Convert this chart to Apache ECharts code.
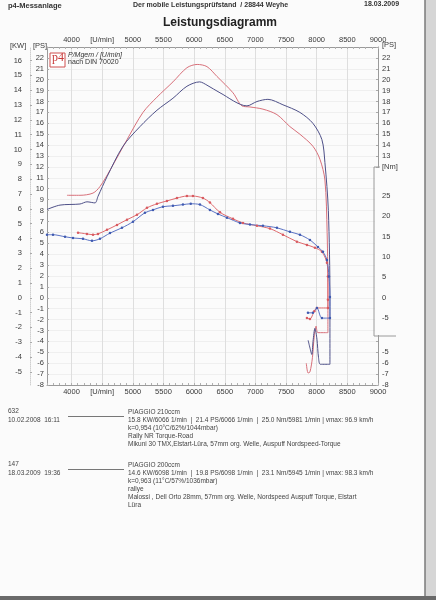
<!DOCTYPE html>
<html>
<head>
<meta charset="utf-8">
<script src="https://cdn.jsdelivr.net/npm/echarts@6/dist/echarts.min.js"></script>
<style>
  html, body { margin: 0; padding: 0; background: #fbfbfb; }
  #main { width: 436px; height: 600px; }
</style>
</head>
<body>
<div id="main"></div>
<script>
// --- data ---
// power 210ccm (red), PS over U/min (tail = run-down loop)
const redPowerRpm = [3926, 4138, 4350, 4464, 4628, 4905, 5166, 5394, 5655, 5883, 6050, 6210, 6373, 6634, 6781, 6911, 7123, 7351, 7563, 7726, 7938, 8053, 8134, 8170, 8183, 8183, 8020, 7990, 7960, 7930, 7890, 7860, 7830];
const redPowerPs  = [9.4, 9.4, 9.6, 10.2, 11.7, 14.5, 17.0, 18.4, 19.8, 21.1, 21.4, 21.2, 20.3, 18.8, 17.6, 17.5, 17.3, 16.8, 15.7, 15.0, 13.9, 12.7, 10.8, 6.0, 0, -3.2, -3.2, -2.6, -3.5, -5.5, -6.8, -6.9, -6.0];

// power 200ccm (blue)
const bluePowerRpm = [3600, 3812, 4138, 4252, 4383, 4432, 4579, 4840, 5117, 5394, 5655, 5883, 6090, 6210, 6422, 6862, 7025, 7204, 7449, 7726, 7938, 8085, 8134, 8190, 8216, 8216, 8060, 8030, 8004, 7971, 7940, 7920, 7890, 7860];
const bluePowerPs  = [8.1, 8.5, 8.6, 8.8, 8.7, 9.3, 11.1, 13.9, 15.7, 17.2, 18.3, 19.4, 19.8, 19.5, 18.8, 17.6, 18.0, 18.2, 17.7, 17.0, 16.0, 14.5, 12.4, 8.0, 0, -6.1, -6.1, -5.5, -3.8, -2.8, -4.0, -5.2, -4.6, -3.9];

// torque 210ccm (red), Nm
const redTorqueRpm = [4106, 4252, 4350, 4432, 4579, 4742, 4905, 5068, 5231, 5394, 5557, 5720, 5883, 5981, 6144, 6258, 6422, 6634, 6797, 7025, 7237, 7449, 7677, 7841, 7971, 8085, 8167, 8183, 8183, 8183, 8004, 7960, 7890, 7841];
const redTorqueNm  = [16.0, 15.7, 15.5, 15.7, 16.7, 17.9, 19.2, 20.4, 22.1, 23.1, 23.8, 24.5, 25.0, 25.0, 24.5, 23.4, 21.0, 19.4, 18.4, 17.7, 17.0, 15.5, 13.8, 13.0, 12.3, 11.3, 8.6, 5.2, -0.5, -2.5, -2.5, -3.3, -5.2, -5.0];

// torque 200ccm (blue)
const blueTorqueRpm = [3600, 3698, 3894, 4024, 4187, 4334, 4464, 4628, 4823, 5003, 5198, 5329, 5492, 5655, 5818, 5945, 6095, 6258, 6389, 6536, 6748, 6911, 7123, 7351, 7563, 7726, 7890, 8020, 8102, 8167, 8200, 8216, 8216, 8085, 8004, 7938, 7857];
const blueTorqueNm  = [15.5, 15.5, 15.0, 14.7, 14.5, 14.0, 14.5, 15.9, 17.2, 18.7, 20.9, 21.6, 22.4, 22.6, 22.9, 23.1, 22.9, 21.6, 20.6, 19.7, 18.4, 18.0, 17.7, 17.2, 16.2, 15.5, 14.2, 12.5, 11.3, 9.3, 5.2, 0.2, -5.0, -5.0, -2.5, -3.7, -3.7];

// axis labels
const kwLabels = [-5, -4, -3, -2, -1, 0, 1, 2, 3, 4, 5, 6, 7, 8, 9, 10, 11, 12, 13, 14, 15, 16];
const nmLabels = [-5, 0, 5, 10, 15, 20, 25];

const rpmMin = 3600, rpmMax = 9000;
const psMin = -8, psMax = 23;
const kwPerPs = 0.7355;
const nmPerPs = 2.68;

function pairs(xs, ys) { return xs.map((x, i) => [x, ys[i]]); }

let chartDom = document.getElementById('main');
let myChart = echarts.init(chartDom, null, { renderer: 'canvas' });

const font = 'Liberation Sans';
const txtColor = '#3a3a3a';

function rpmLabel(v) {
  if (v % 500 !== 0) return '';
  if (v === 4500) return '[U/min]';
  return String(v);
}

const xCommon = {
  type: 'value', min: rpmMin, max: rpmMax, interval: 100,
  axisLine: { show: true, onZero: false, lineStyle: { color: '#9a9a9a', width: 1 } },
  axisTick: { show: true, inside: true, length: 2, lineStyle: { color: '#b0b0b0' } },
  axisLabel: { formatter: rpmLabel, fontSize: 7.5, color: txtColor, fontFamily: font, margin: 3 }
};

let option = {
  backgroundColor: '#fbfbfb',
  animation: false,
  grid: { left: 47, right: 58, top: 47, bottom: 215 },
  xAxis: [
    Object.assign({}, xCommon, {
      position: 'bottom',
      splitLine: { show: true, lineStyle: { color: ['transparent', 'transparent', 'transparent', 'transparent', '#dedede'], width: 1 } }
    }),
    Object.assign({}, xCommon, { position: 'top', splitLine: { show: false } })
  ],
  yAxis: [
    { // PS left
      type: 'value', min: psMin, max: psMax, interval: 1, position: 'left',
      axisLine: { show: true, onZero: false, lineStyle: { color: '#9a9a9a' } },
      axisTick: { show: true, inside: true, length: 2, lineStyle: { color: '#aaa' } },
      axisLabel: { formatter: v => v === psMax ? '' : v, fontSize: 7.5, color: txtColor, fontFamily: font, margin: 3 },
      splitLine: { show: true, lineStyle: { color: '#efefef' } }
    },
    { // KW left
      type: 'value', min: psMin * kwPerPs, max: psMax * kwPerPs, position: 'left', offset: 17,
      axisLine: { show: true, onZero: false, lineStyle: { color: '#d0d0d0', type: 'dotted' } },
      axisTick: { show: true, inside: true, length: 2, customValues: kwLabels, lineStyle: { color: '#aaa' } },
      axisLabel: { customValues: kwLabels, fontSize: 7.5, color: txtColor, fontFamily: font, margin: 8 },
      splitLine: { show: false }
    },
    { // PS right
      type: 'value', min: psMin, max: psMax, interval: 1, position: 'right',
      axisLine: { show: true, onZero: false, lineStyle: { color: '#9a9a9a' } },
      axisTick: { show: true, inside: true, length: 2, lineStyle: { color: '#aaa' } },
      axisLabel: { formatter: v => (v >= 13 && v <= 22) || (v <= -5) ? v : '', fontSize: 7.5, color: txtColor, fontFamily: font, margin: 4 },
      splitLine: { show: false }
    },
    { // Nm right
      type: 'value', min: psMin * nmPerPs, max: psMax * nmPerPs, position: 'right', z: 20,
      axisLine: { show: false, onZero: false },
      axisTick: { show: false },
      axisLabel: { customValues: nmLabels, fontSize: 7.5, color: txtColor, fontFamily: font, margin: 4 },
      splitLine: { show: false }
    }
  ],
  series: [
    {
      name: 'Leistung 210ccm', type: 'line', xAxisIndex: 0, yAxisIndex: 0,
      data: pairs(redPowerRpm, redPowerPs), smooth: 0.3, showSymbol: false,
      lineStyle: { color: '#d8707a', width: 1 }, z: 3
    },
    {
      name: 'Leistung 200ccm', type: 'line', xAxisIndex: 0, yAxisIndex: 0,
      data: pairs(bluePowerRpm, bluePowerPs), smooth: 0.3, showSymbol: false,
      lineStyle: { color: '#4e5088', width: 1 }, z: 3
    },
    {
      name: 'Drehmoment 210ccm', type: 'line', xAxisIndex: 0, yAxisIndex: 3,
      data: pairs(redTorqueRpm, redTorqueNm), smooth: 0.3,
      symbol: 'circle', symbolSize: 2.5,
      itemStyle: { color: '#d85a60' }, lineStyle: { color: '#e06a6e', width: 1 }, z: 4
    },
    {
      name: 'Drehmoment 200ccm', type: 'line', xAxisIndex: 0, yAxisIndex: 3,
      data: pairs(blueTorqueRpm, blueTorqueNm), smooth: 0.3,
      symbol: 'circle', symbolSize: 2.5,
      itemStyle: { color: '#3f5ab0' }, lineStyle: { color: '#5a72c4', width: 1 }, z: 4
    }
  ],
  graphic: [
    // scanner edge
    { type: 'rect', shape: { x: 425, y: 0, width: 11, height: 600 }, style: { fill: '#d6d6d6' }, z: 0 },
    { type: 'line', shape: { x1: 425, y1: 0, x2: 425, y2: 600 }, style: { stroke: '#7a7a7a', lineWidth: 1.5 }, z: 1 },
    { type: 'rect', shape: { x: 0, y: 596, width: 436, height: 4 }, style: { fill: '#6a6a6a' }, z: 1 },
    // header
    { type: 'text', left: 8, top: 2, style: { text: 'p4-Messanlage', font: 'bold 7.5px ' + font, fill: '#333' } },
    { type: 'text', left: 133, top: 2, style: { text: 'Der mobile Leistungsprüfstand  / 28844 Weyhe', font: 'bold 7px ' + font, fill: '#333' } },
    { type: 'text', left: 364, top: 1, style: { text: '18.03.2009', font: 'bold 7px ' + font, fill: '#333' } },
    { type: 'text', left: 163, top: 17, style: { text: 'Leistungsdiagramm', font: 'bold 12px ' + font, fill: '#222' } },
    // unit labels
    { type: 'text', left: 10, top: 42, style: { text: '[KW]', font: '7.5px ' + font, fill: txtColor } },
    { type: 'text', left: 33, top: 42, style: { text: '[PS]', font: '7.5px ' + font, fill: txtColor } },
    { type: 'text', left: 382, top: 41, style: { text: '[PS]', font: '7.5px ' + font, fill: txtColor } },
    // Nm box on the right axis
    { type: 'rect', shape: { x: 375, y: 168, width: 7, height: 167 }, style: { fill: '#fbfbfb' }, z: 10 },
    { type: 'polyline', shape: { points: [[380, 167], [374, 167], [374, 336], [396, 336]] }, style: { stroke: '#9a9a9a', lineWidth: 1, fill: 'none' }, z: 11 },
    { type: 'text', left: 382, top: 163, style: { text: '[Nm]', font: '7.5px ' + font, fill: txtColor }, z: 11 },
    // logo
    { type: 'rect', shape: { x: 50, y: 53, width: 15, height: 14 }, style: { fill: '#fff', stroke: '#d05050', lineWidth: 1 }, z: 12 },
    { type: 'text', left: 52, top: 52, style: { text: 'p4', font: '12px "Liberation Serif"', fill: '#c83a3a' }, z: 12 },
    { type: 'text', left: 68, top: 52, style: { text: 'P/Mgem / [U/min]', font: 'italic 7px ' + font, fill: '#333' }, z: 12 },
    { type: 'text', left: 68, top: 59, style: { text: 'nach DIN 70020', font: '7px ' + font, fill: '#333' }, z: 12 },
    // run data, first block
    { type: 'text', left: 8, top: 408, style: { text: '632', font: '6.5px ' + font, fill: '#444' } },
    { type: 'line', shape: { x1: 68, y1: 416.5, x2: 124, y2: 416.5 }, style: { stroke: '#555', lineWidth: 0.8 } },
    { type: 'text', left: 8, top: 417, style: { text: '10.02.2008  16:11', font: '6.5px ' + font, fill: '#444' } },
    { type: 'text', left: 128, top: 409, style: { text: 'PIAGGIO 210ccm', font: '6.5px ' + font, fill: '#444' } },
    { type: 'text', left: 128, top: 417, style: { text: '15.8 KW/6066 1/min  |  21.4 PS/6066 1/min  |  25.0 Nm/5981 1/min | vmax: 96.9 km/h', font: '6.5px ' + font, fill: '#444' } },
    { type: 'text', left: 128, top: 425, style: { text: 'k=0,954 (10°C/62%/1044mbar)', font: '6.5px ' + font, fill: '#444' } },
    { type: 'text', left: 128, top: 433, style: { text: 'Rally NR Torque-Road', font: '6.5px ' + font, fill: '#444' } },
    { type: 'text', left: 128, top: 441, style: { text: 'Mikuni 30 TMX,Elstart-Lüra, 57mm org. Welle, Auspuff Nordspeed-Torque', font: '6.5px ' + font, fill: '#444' } },
    // second block
    { type: 'text', left: 8, top: 461, style: { text: '147', font: '6.5px ' + font, fill: '#444' } },
    { type: 'line', shape: { x1: 68, y1: 469.5, x2: 124, y2: 469.5 }, style: { stroke: '#555', lineWidth: 0.8 } },
    { type: 'text', left: 8, top: 470, style: { text: '18.03.2009  19:36', font: '6.5px ' + font, fill: '#444' } },
    { type: 'text', left: 128, top: 462, style: { text: 'PIAGGIO 200ccm', font: '6.5px ' + font, fill: '#444' } },
    { type: 'text', left: 128, top: 470, style: { text: '14.6 KW/6098 1/min  |  19.8 PS/6098 1/min  |  23.1 Nm/5945 1/min | vmax: 98.3 km/h', font: '6.5px ' + font, fill: '#444' } },
    { type: 'text', left: 128, top: 478, style: { text: 'k=0,963 (11°C/57%/1036mbar)', font: '6.5px ' + font, fill: '#444' } },
    { type: 'text', left: 128, top: 486, style: { text: 'rallye', font: '6.5px ' + font, fill: '#444' } },
    { type: 'text', left: 128, top: 494, style: { text: 'Malossi , Dell Orto 28mm, 57mm org. Welle, Nordspeed Auspuff Torque, Elstart', font: '6.5px ' + font, fill: '#444' } },
    { type: 'text', left: 128, top: 502, style: { text: 'Lüra', font: '6.5px ' + font, fill: '#444' } }
  ]
};

myChart.setOption(option);
</script>
</body>
</html>
